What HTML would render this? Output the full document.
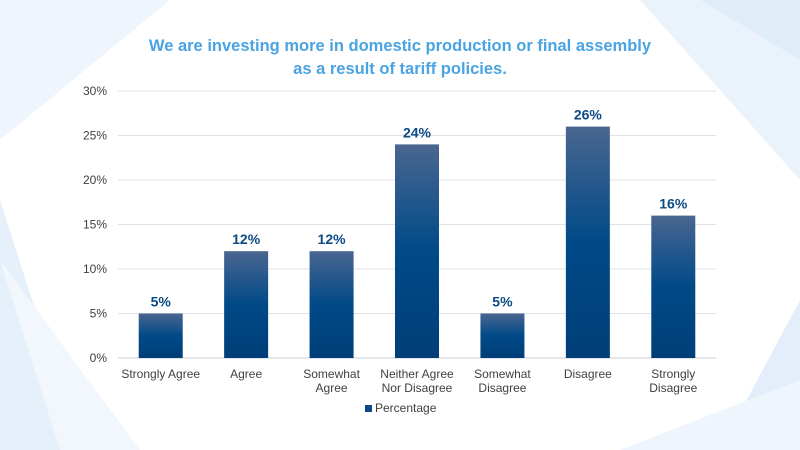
<!DOCTYPE html>
<html><head><meta charset="utf-8"><style>
html,body{margin:0;padding:0;width:800px;height:450px;overflow:hidden;background:#fff;font-family:"Liberation Sans",Arial,sans-serif}
</style></head><body>
<svg id="chart" width="800" height="450" viewBox="0 0 800 450" xmlns="http://www.w3.org/2000/svg">
<defs>
<linearGradient id="barg" x1="0" y1="0" x2="0" y2="1">
<stop offset="0" stop-color="#4a6690"/><stop offset="0.5" stop-color="#004a88"/><stop offset="1" stop-color="#003e78"/>
</linearGradient>
</defs>
<g>
<polygon points="0,0 170,0 0,140" fill="#eef5fc"/>
<polygon points="0,200 80,450 0,450" fill="#e6f0fa"/>
<polygon points="0,260 140,450 60,450" fill="#f1f7fd"/>
<polygon points="640,0 800,0 800,180" fill="#eaf3fb"/>
<polygon points="700,0 800,0 800,60" fill="#dfedf9"/>
<polygon points="720,450 800,300 800,450" fill="#e3eefa"/>
<polygon points="620,450 800,380 800,450" fill="#eef5fc"/>
</g>
<text x="400" y="51" text-anchor="middle" font-size="16.5" font-weight="bold" fill="#4aa3e2">We are investing more in domestic production or final assembly</text>
<text x="400" y="74" text-anchor="middle" font-size="16.5" font-weight="bold" fill="#4aa3e2">as a result of tariff policies.</text>
<g id="grid"></g><g id="bars"></g><g id="labels"></g>
<rect x="365" y="405" width="7" height="7" fill="#0a4a88"/>
<text x="375" y="412" font-size="12" fill="#404040">Percentage</text>
</svg>
<script>
const categories=[["Strongly Agree"],["Agree"],["Somewhat","Agree"],["Neither Agree","Nor Disagree"],["Somewhat","Disagree"],["Disagree"],["Strongly","Disagree"]];
const values=[5,12,12,24,5,26,16];
const ticks=[0,5,10,15,20,25,30];
const NS="http://www.w3.org/2000/svg";
const x0=118,x1=716,yTop=91,yBot=358,maxV=30;
const y=v=>yBot-(v/maxV)*(yBot-yTop);
const band=(x1-x0)/categories.length;
const xc=i=>x0+band*(i+0.5);
function mk(t,a,p){const e=document.createElementNS(NS,t);for(const k in a)e.setAttribute(k,a[k]);p.appendChild(e);return e;}
const g=document.getElementById('grid'),b=document.getElementById('bars'),l=document.getElementById('labels');
ticks.forEach(t=>{
 const ln=mk('line',{x1:x0,x2:x1,y1:y(t),y2:y(t),stroke:t===0?'#c8ccd4':'#dde1e8','stroke-width':1},g);
 
 
 const tx=mk('text',{x:107,y:y(t)+4,'text-anchor':'end','font-size':12,fill:'#404040'},g);
 tx.textContent=t+'%';
 
 
});
values.forEach((v,i)=>{
 const r=mk('rect',{x:xc(i)-22,y:y(v),width:44,height:yBot-y(v),fill:'url(#barg)'},b);
 
 
 const vt=mk('text',{x:xc(i),y:y(v)-7,'text-anchor':'middle','font-size':14,'font-weight':'bold',fill:'#0b4a85'},l);
 vt.textContent=v+'%';
 
 
 categories[i].forEach((s,j)=>{
  const ct=mk('text',{x:xc(i),y:378+j*14,'text-anchor':'middle','font-size':12,fill:'#404040'},l);
  ct.textContent=s;
  
  
 });
});
</script>
</body></html>
